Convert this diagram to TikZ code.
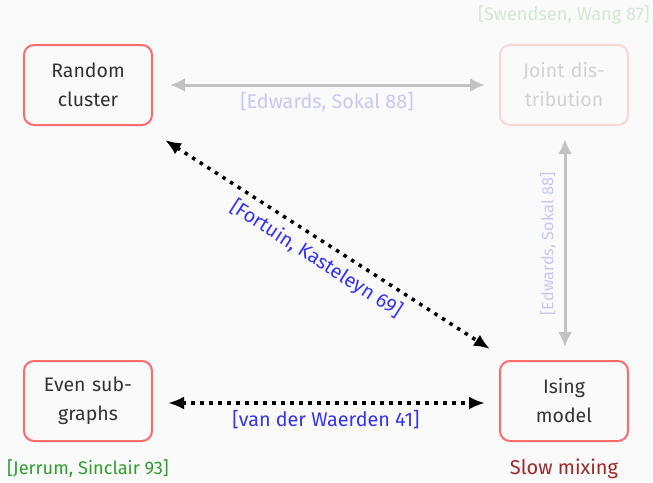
\documentclass[tikz,border=0pt]{standalone}
\usepackage{fontspec}
\setmainfont{Fira Sans}
\usetikzlibrary{arrows.meta}
\definecolor{bg}{HTML}{FAFAFA}
\definecolor{boxred}{HTML}{FF6B6B}
\definecolor{fadedred}{HTML}{F9D6D6}
\definecolor{fadedtext}{HTML}{D2D2D2}
\definecolor{refblue}{HTML}{3333FF}
\definecolor{fadedblue}{HTML}{C8C8F6}
\definecolor{refgreen}{HTML}{2E9E2E}
\definecolor{fadedgreen}{HTML}{D2E8D2}
\definecolor{darkred}{HTML}{A02828}
\definecolor{greyline}{HTML}{C2C2C2}
\tikzset{
  model/.style={draw=boxred, line width=2pt, rounded corners=10pt, minimum width=128pt,
    minimum height=80pt, text width=115pt, align=center, font=\fontsize{19.5}{29}\selectfont,
    text=black!80},
  fadedmodel/.style={model, draw=fadedred, text=fadedtext},
  dotlink/.style={line width=3.5pt, dash pattern=on 3.5pt off 5.5pt,
    {Latex[length=16pt,width=13pt]}-{Latex[length=16pt,width=13pt]}},
  greylink/.style={greyline, line width=3pt,
    {Latex[length=15pt,width=14pt]}-{Latex[length=15pt,width=14pt]}},
  cite/.style={font=\fontsize{19.8}{22}\selectfont, text=refblue, inner sep=0pt},
  note/.style={font=\fontsize{18.2}{20}\selectfont, inner sep=0pt},
}
\begin{document}
\begin{tikzpicture}[x=1pt,y=-1pt]
  \fill[bg] (0,0) rectangle (653,482);
  \useasboundingbox (0,0) rectangle (653,482);

  \node[model] (rc) at (88,85) {Random\\cluster};
  \node[fadedmodel] (jd) at (564,85) {Joint dis-\\tribution};
  \node[model] (es) at (88,401) {Even sub-\\graphs};
  \node[model] (im) at (564,401) {Ising\\model};

  \coordinate (rcE) at (170,85);
  \coordinate (jdW) at (485,85);
  \coordinate (jdS) at (565,139);
  \coordinate (imN) at (565,347);
  \coordinate (rcSE) at (165,140);
  \coordinate (imNW) at (490,349);
  \coordinate (esE) at (168,403);
  \coordinate (imW) at (485,403);

  \draw[greylink] (rcE) -- (jdW);
  \draw[greylink] (jdS) -- (imN);
  \draw[dotlink] (rcSE) -- (imNW);
  \draw[dotlink] (esE) -- (imW);

  \node[cite, text=fadedblue] (l1) at (327,102) {[Edwards, Sokal 88]};
  \node[cite, text=fadedblue, rotate=90, font=\fontsize{16.3}{18}\selectfont] (l2) at (548,244) {[Edwards, Sokal 88]};
  \node[cite, rotate=-32.6] (l3) at (316,259) {[Fortuin, Kasteleyn 69]};
  \node[cite] (l4) at (326,420) {[van der Waerden 41]};

  \node[note, text=fadedgreen, anchor=east] (sw) at (650,15) {[Swendsen, Wang 87]};
  \node[note, text=refgreen] (js) at (88,469) {[Jerrum, Sinclair 93]};
  \node[note, text=darkred, font=\fontsize{20}{22}\selectfont] (sm) at (564,469) {Slow mixing};
\end{tikzpicture}
\end{document}
